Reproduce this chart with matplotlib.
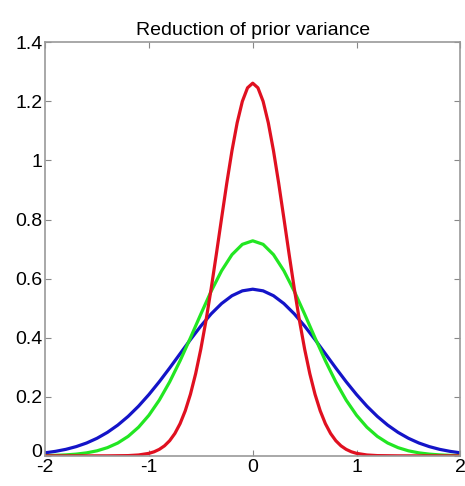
import numpy as np
import matplotlib
matplotlib.use('Agg')
import matplotlib.pyplot as plt
import matplotlib.transforms as mtransforms

plt.rcParams['font.family'] = ['Liberation Sans', 'DejaVu Sans']

# values (symmetric curves around 0)
x_broad = [-2.0, -1.9, -1.8, -1.7, -1.6, -1.5, -1.4, -1.3, -1.2, -1.1, -1.0,
           -0.9, -0.8, -0.7, -0.6, -0.5, -0.4, -0.3, -0.2, -0.1, 0.0,
           0.1, 0.2, 0.3, 0.4, 0.5, 0.6, 0.7, 0.8, 0.9, 1.0,
           1.1, 1.2, 1.3, 1.4, 1.5, 1.6, 1.7, 1.8, 1.9, 2.0]

blue_y = [0.0103, 0.0153, 0.0221, 0.0314, 0.0436, 0.0595, 0.0795, 0.1041, 0.1337, 0.1682, 0.2076,
          0.2510, 0.2975, 0.3456, 0.3936, 0.4394, 0.4808, 0.5156, 0.5421, 0.5586, 0.5642,
          0.5586, 0.5421, 0.5156, 0.4808, 0.4394, 0.3936, 0.3456, 0.2975, 0.2510, 0.2076,
          0.1682, 0.1337, 0.1041, 0.0795, 0.0595, 0.0436, 0.0314, 0.0221, 0.0153, 0.0103]

green_y = [0.0009, 0.0018, 0.0033, 0.0059, 0.0102, 0.0171, 0.0278, 0.0435, 0.0660, 0.0969, 0.1375,
           0.1887, 0.2505, 0.3217, 0.3995, 0.4799, 0.5576, 0.6266, 0.6811, 0.7160, 0.7280,
           0.7160, 0.6811, 0.6266, 0.5576, 0.4799, 0.3995, 0.3217, 0.2505, 0.1887, 0.1375,
           0.0969, 0.0660, 0.0435, 0.0278, 0.0171, 0.0102, 0.0059, 0.0033, 0.0018, 0.0009]

x_red = [-2.0, -1.6, -1.4, -1.2, -1.1, -1.0, -0.95, -0.9, -0.85, -0.8, -0.75, -0.7, -0.65,
         -0.6, -0.55, -0.5, -0.45, -0.4, -0.35, -0.3, -0.25, -0.2, -0.15, -0.1, -0.05, 0.0,
         0.05, 0.1, 0.15, 0.2, 0.25, 0.3, 0.35, 0.4, 0.45, 0.5, 0.55, 0.6,
         0.65, 0.7, 0.75, 0.8, 0.85, 0.9, 0.95, 1.0, 1.1, 1.2, 1.4, 1.6, 2.0]

red_y = [0.0, 0.0, 0.0001, 0.0009, 0.0030, 0.0085, 0.0138, 0.0220, 0.0340, 0.0514, 0.0758, 0.1089, 0.1526,
         0.2085, 0.2780, 0.3615, 0.4584, 0.5669, 0.6838, 0.8044, 0.9230, 1.0329, 1.1274, 1.2001, 1.2459, 1.2616,
         1.2459, 1.2001, 1.1274, 1.0329, 0.9230, 0.8044, 0.6838, 0.5669, 0.4584, 0.3615, 0.2780, 0.2085,
         0.1526, 0.1089, 0.0758, 0.0514, 0.0340, 0.0220, 0.0138, 0.0085, 0.0030, 0.0009, 0.0001, 0.0, 0.0]

xticks = [-2, -1, 0, 1, 2]
yticks = [0, 0.2, 0.4, 0.6, 0.8, 1, 1.2, 1.4]
ytick_labels = ['0', '0.2', '0.4', '0.6', '0.8', '1', '1.2', '1.4']

fig = plt.figure(figsize=(4.65, 4.86), dpi=100)
ax = fig.add_axes([0.097, 0.062, 0.893, 0.851])

ax.plot(x_broad, blue_y, color='#1414c8', linewidth=2.3, solid_joinstyle='round')
ax.plot(x_broad, green_y, color='#22e622', linewidth=2.3, solid_joinstyle='round')
ax.plot(x_red, red_y, color='#e01020', linewidth=2.3, solid_joinstyle='round')

ax.set_xlim(-2, 2)
ax.set_ylim(0, 1.4)
ax.set_xticks(xticks)
ax.set_xticklabels([str(t) for t in xticks])
ax.set_yticks(yticks)
ax.set_yticklabels(ytick_labels)
ax.tick_params(direction='in', length=4, width=0.8, color='#888888',
               top=True, right=True, labelsize=14)
ax.tick_params(axis='x', pad=2)
ax.tick_params(axis='y', pad=2)
for s in ax.spines.values():
    s.set_color('#999999')
    s.set_linewidth(1.2)

# lift the "0" on the y axis a little so it clears the "-2" below it
zero_lbl = ax.get_yticklabels()[0]
zero_lbl.set_transform(zero_lbl.get_transform() +
                       mtransforms.ScaledTranslation(0, 4 / 72, fig.dpi_scale_trans))

ax.set_title('Reduction of prior variance', fontsize=14, pad=5)

fig.savefig('out.png', dpi=100)
